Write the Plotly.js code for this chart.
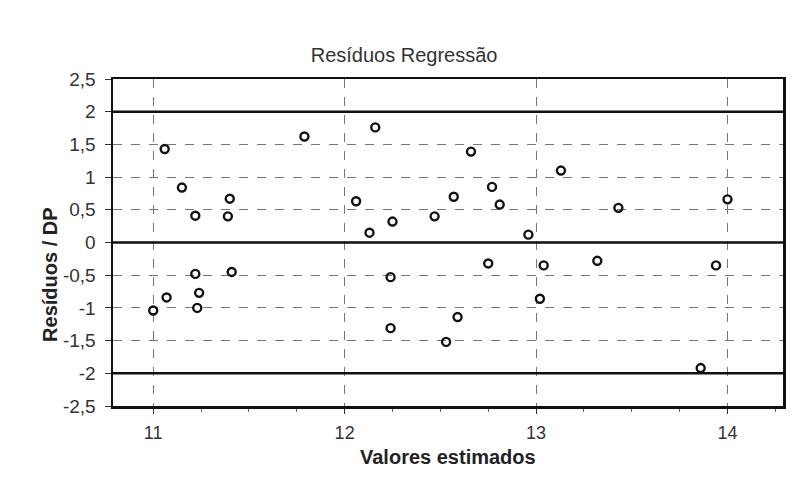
<!DOCTYPE html>
<html>
<head>
<meta charset="utf-8">
<script src="https://cdn.plot.ly/plotly-3.0.1.min.js"></script>
<style>html,body{margin:0;padding:0;background:#fff;}#chart{width:797px;height:482px;}</style>
</head>
<body>
<div id="chart"></div>
<script>
const estimados = [11.06, 11.15, 11.22, 11.39, 11.40, 11.79, 12.06, 11.00, 11.07, 11.22, 11.24, 11.23, 11.41,
  12.16, 12.66, 13.13, 12.13, 12.25, 12.47, 12.57, 12.77, 12.81, 12.96, 12.75, 13.04, 12.24, 13.02, 12.59,
  12.24, 12.53, 13.32, 13.43, 14.00, 13.94, 13.86];
const residuosDP = [1.43, 0.84, 0.41, 0.40, 0.67, 1.62, 0.63, -1.04, -0.84, -0.48, -0.77, -1.00, -0.45,
  1.76, 1.39, 1.10, 0.15, 0.32, 0.40, 0.70, 0.85, 0.58, 0.12, -0.32, -0.35, -0.53, -0.86, -1.14,
  -1.31, -1.52, -0.28, 0.53, 0.66, -0.35, -1.92];
const limites = [2, 0, -2];
const xTicks = [11, 12, 13, 14];
const yTicks = [-2.5, -2, -1.5, -1, -0.5, 0, 0.5, 1, 1.5, 2, 2.5];
const yTickText = ['-2,5', '-2', '-1,5', '-1', '-0,5', '0', '0,5', '1', '1,5', '2', '2,5'];

const FONT = '"Liberation Sans", Arial, sans-serif';

const trace = {
  x: estimados, y: residuosDP, type: 'scatter', mode: 'markers',
  marker: {symbol: 'circle-open', size: 8, color: '#111', line: {width: 2.4, color: '#111'}},
  hoverinfo: 'x+y'
};

const shapes = limites.map(v => ({
  type: 'line', xref: 'paper', x0: 0, x1: 1, yref: 'y', y0: v, y1: v,
  line: {color: '#111', width: 2.5}
}));

const layout = {
  width: 797, height: 482,
  margin: {l: 113, r: 14, t: 79, b: 76},
  paper_bgcolor: '#fff', plot_bgcolor: '#fff',
  separators: ',.',
  font: {family: FONT, color: '#222'},
  title: {text: 'Resíduos Regressão', font: {family: FONT, size: 20, color: '#333'}, x: 0.507, xref: 'container', xanchor: 'center', y: 0.886, yref: 'container', yanchor: 'middle'},
  showlegend: false,
  xaxis: {
    range: [10.79, 14.29], tickvals: xTicks, ticks: 'outside', ticklen: 5, tickcolor: '#333',
    tickfont: {family: FONT, size: 18, color: '#333'}, ticklabelstandoff: 4,
    showgrid: true, gridcolor: '#777', griddash: 'dash', gridwidth: 1,
    minor: {dtick: 0.25, tick0: 11, ticks: 'outside', ticklen: 3, tickcolor: '#666', showgrid: false},
    showline: true, linecolor: '#111', linewidth: 2.5, mirror: true, zeroline: false
  },
  yaxis: {
    range: [-2.5, 2.5], tickvals: yTicks, ticktext: yTickText, ticks: 'outside', ticklen: 6, tickcolor: '#333',
    tickfont: {family: FONT, size: 19, color: '#333'}, ticklabelstandoff: 5,
    showgrid: true, gridcolor: '#777', griddash: 'dash', gridwidth: 1,
    showline: true, linecolor: '#111', linewidth: 2.5, mirror: true, zeroline: false
  },
  annotations: [
    {text: '<b>Valores estimados</b>', xref: 'paper', x: 0.5, xanchor: 'center', yref: 'paper', y: -0.155, yanchor: 'middle',
     showarrow: false, font: {family: FONT, size: 20, color: '#222'}},
    {text: '<b>Resíduos / DP</b>', textangle: -90, xref: 'paper', x: -0.093, xanchor: 'center', yref: 'paper', y: 0.40, yanchor: 'middle',
     showarrow: false, font: {family: FONT, size: 20, color: '#222'}}
  ],
  shapes: shapes
};

Plotly.newPlot('chart', [trace], layout, {displayModeBar: false, staticPlot: true});
</script>
</body>
</html>
